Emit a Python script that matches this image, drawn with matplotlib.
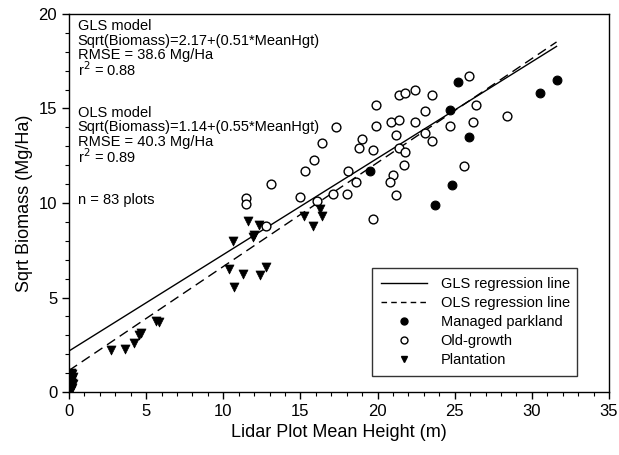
import matplotlib
matplotlib.use("Agg")
import matplotlib.pyplot as plt
from matplotlib.lines import Line2D
import numpy as np

plt.rcParams['font.family'] = ['Liberation Sans', 'DejaVu Sans']

# Managed parkland (filled circles)
park_x = [25.2, 24.7, 25.9, 19.5, 24.8, 23.7, 30.5, 31.6]
park_y = [16.4, 14.9, 13.5, 11.7, 10.97, 9.9, 15.8, 16.5]

# Old-growth (open circles)
old_x = [25.9, 21.4, 21.8, 22.4, 23.5, 19.9, 23.1, 26.4, 17.3, 19.9, 20.9, 21.4,
         22.4, 26.2, 28.4, 24.7, 16.4, 19.0, 21.2, 23.05, 23.5, 18.8, 19.7, 21.4,
         21.8, 15.9, 15.3, 18.1, 21.7, 25.6, 21.0, 18.6, 20.8, 15.0, 17.1, 18.05,
         21.2, 16.1, 19.7, 13.1, 11.45, 11.45, 12.8]
old_y = [16.7, 15.7, 15.8, 16.0, 15.7, 15.2, 14.85, 15.2, 14.0, 14.1, 14.3, 14.4,
         14.3, 14.3, 14.6, 14.05, 13.2, 13.4, 13.6, 13.7, 13.3, 12.9, 12.8, 12.9,
         12.7, 12.3, 11.7, 11.7, 12.0, 11.96, 11.5, 11.1, 11.1, 10.3, 10.5, 10.5,
         10.4, 10.1, 9.15, 11.0, 10.26, 9.95, 8.77]

# Plantation (triangles)
plant_x = [15.2, 16.3, 16.4, 15.8, 11.6, 12.3, 11.97, 11.9, 10.6, 10.4, 11.3,
           10.67, 12.4, 12.8, 2.7, 3.66, 4.2, 4.55, 4.68, 5.65, 5.84,
           0.15, 0.2, 0.15, 0.25, 0.2, 0.15, 0.2, 0.25, 0.15, 0.2, 0.15]
plant_y = [9.3, 9.7, 9.3, 8.8, 9.03, 8.84, 8.29, 8.19, 8.0, 6.49, 6.24,
           5.57, 6.21, 6.6, 2.2, 2.26, 2.6, 3.03, 3.1, 3.77, 3.7,
           0.1, 0.2, 0.3, 0.4, 0.5, 0.6, 0.7, 0.8, 0.9, 0.95, 1.0]

gls_coef = (2.17, 0.51)
ols_coef = (1.14, 0.55)
line_x = [0.0, 31.6]

fig = plt.figure(figsize=(6.19, 4.55), dpi=100)
ax = fig.add_axes([69/619, 1-392/455, 540/619, 378/455])

lx = np.array(line_x)
ax.plot(lx, gls_coef[0] + gls_coef[1]*lx, color='black', lw=1.0, label='GLS regression line')
ax.plot(lx, ols_coef[0] + ols_coef[1]*lx, color='black', lw=1.0, dashes=(7, 4), label='OLS regression line')

ax.scatter(park_x, park_y, s=40, c='black', marker='o', linewidths=0.8, zorder=3)
ax.scatter(old_x, old_y, s=40, facecolors='white', edgecolors='black', marker='o', linewidths=1.0, zorder=3)
ax.scatter(plant_x, plant_y, s=42, c='black', marker='v', linewidths=0.5, zorder=3)

ax.set_xlim(0, 35)
ax.set_ylim(0, 20)
ax.set_xticks(np.arange(0, 36, 5))
ax.set_yticks(np.arange(0, 21, 5))
ax.set_xticks(np.arange(0, 36, 1), minor=True)
ax.set_yticks(np.arange(0, 21, 1), minor=True)
ax.tick_params(which='major', direction='out', length=5, width=1, labelsize=12, top=False, right=False)
ax.tick_params(which='minor', direction='out', length=3, width=0.8, top=False, right=False)
for s in ax.spines.values():
    s.set_linewidth(1.0)

ax.set_xlabel('Lidar Plot Mean Height (m)', fontsize=13)
ax.set_ylabel('Sqrt Biomass (Mg/Ha)', fontsize=13)

# annotation text (pixel y positions of line centres)
lines_txt = [("GLS model", 26), ("Sqrt(Biomass)=2.17+(0.51*MeanHgt)", 40.7),
             ("RMSE = 38.6 Mg/Ha", 55), (r"r$^2$ = 0.88", 70),
             ("OLS model", 113.3), ("Sqrt(Biomass)=1.14+(0.55*MeanHgt)", 127.3),
             ("RMSE = 40.3 Mg/Ha", 142), (r"r$^2$ = 0.89", 156.7),
             ("n = 83 plots", 200)]
for t, py in lines_txt:
    ax.text((77.5-69)/540, (392-py)/378, t, transform=ax.transAxes, fontsize=10.5,
            va='center', ha='left', math_fontfamily='custom' if False else 'dejavusans')

handles = [Line2D([], [], color='black', lw=1.0),
           Line2D([], [], color='black', lw=1.0, dashes=(4, 3)),
           Line2D([], [], color='black', marker='o', ls='none', markersize=5),
           Line2D([], [], markerfacecolor='white', markeredgecolor='black', marker='o', ls='none', markersize=5),
           Line2D([], [], color='black', marker='v', ls='none', markersize=5)]
labels = ['GLS regression line', 'OLS regression line', 'Managed parkland', 'Old-growth', 'Plantation']
leg = ax.legend(handles, labels, loc='lower left',
                bbox_to_anchor=((372-69)/540, (392-376)/378, (577-372)/540, (376-263)/378),
                mode='expand', fontsize=10.5, frameon=True, fancybox=False, edgecolor='black',
                handlelength=3.2, handletextpad=0.9, labelspacing=0.35, borderpad=0.6, borderaxespad=0)
leg.get_frame().set_linewidth(1.0)

fig.savefig('out.png', dpi=100)
